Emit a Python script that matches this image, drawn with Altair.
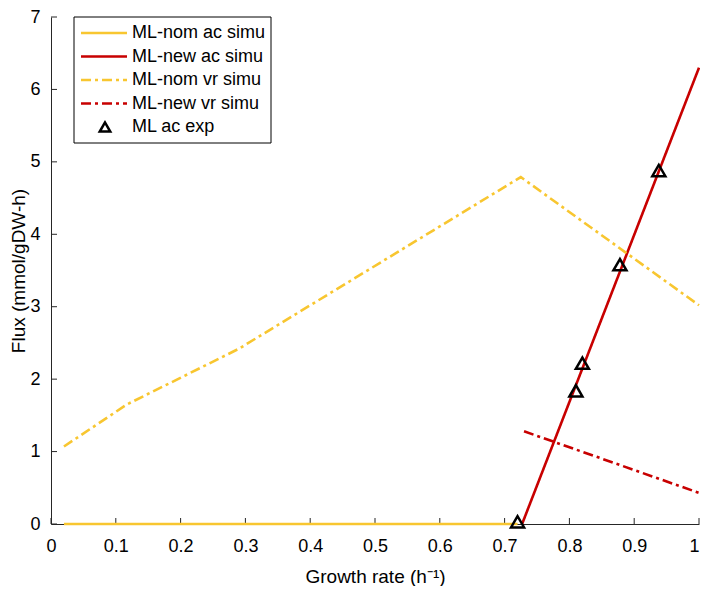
import altair as alt
import pandas as pd

series_names = ["ML-nom ac simu", "ML-new ac simu", "ML-nom vr simu", "ML-new vr simu", "ML ac exp"]

nom_ac_x = [0.02, 0.72]
nom_ac_y = [0.0, 0.0]
new_ac_x = [0.727, 1.0]
new_ac_y = [0.0, 6.3]
nom_vr_x = [0.02, 0.117, 0.29, 0.725, 1.0]
nom_vr_y = [1.07, 1.65, 2.42, 4.79, 3.02]
new_vr_x = [0.73, 1.0]
new_vr_y = [1.28, 0.43]
exp_x = [0.72, 0.81, 0.82, 0.878, 0.938]
exp_y = [0.03, 1.84, 2.22, 3.58, 4.88]

x_ticks = [0, 0.1, 0.2, 0.3, 0.4, 0.5, 0.6, 0.7, 0.8, 0.9, 1]
y_ticks = [0, 1, 2, 3, 4, 5, 6, 7]

YELLOW = "#F8C630"
RED = "#C80000"
colors = [YELLOW, RED, YELLOW, RED, "black"]
DASHDOT = [10, 4, 3, 4]
dashes = [[1, 0], [1, 0], DASHDOT, DASHDOT, [1, 0]]

W, H = 648, 507
PAD = {"left": 43, "top": 9, "right": 1, "bottom": 62}
FONT = "Liberation Sans"
AXIS_COLOR = "#262626"

rows = []
for name, xs, ys in [
    (series_names[0], nom_ac_x, nom_ac_y),
    (series_names[1], new_ac_x, new_ac_y),
    (series_names[2], nom_vr_x, nom_vr_y),
    (series_names[3], new_vr_x, new_vr_y),
]:
    for i, (a, b) in enumerate(zip(xs, ys)):
        rows.append({"series": name, "x": a, "y": b, "o": i})
lines_df = pd.DataFrame(rows)
exp_df = pd.DataFrame({"series": series_names[4], "x": exp_x, "y": exp_y})
xt_df = pd.DataFrame({"x": x_ticks})
yt_df = pd.DataFrame({"y": y_ticks})
one = pd.DataFrame({"a": [0]})

xscale = alt.Scale(domain=[0, 1], nice=False, zero=False)
yscale = alt.Scale(domain=[0, 7], nice=False)
xaxis = alt.Axis(
    values=x_ticks, format="~g", ticks=False, grid=False, labelPadding=13,
    titlePadding=12, labelFlush=False, labelOverlap=False,
    labelAlign={"condition": {"test": "datum.value >= 1", "value": "right"}, "value": "center"},
)
yaxis = alt.Axis(values=y_ticks, format="~g", ticks=False, grid=False, labelPadding=11,
                 titlePadding=1, labelOverlap=False)
XT = "Growth rate (h⁻¹)"
YT = "Flux (mmol/gDW-h)"

color = alt.Color("series:N", scale=alt.Scale(domain=series_names, range=colors), legend=None)
dash = alt.StrokeDash("series:N", scale=alt.Scale(domain=series_names, range=dashes), legend=None)

# inward ticks (MATLAB style)
xtick_layer = alt.Chart(xt_df).mark_rule(color=AXIS_COLOR, strokeWidth=1).encode(
    x=alt.X("x:Q", scale=xscale, axis=xaxis, title=XT),
    y=alt.value(H), y2=alt.value(H - 6),
)
ytick_layer = alt.Chart(yt_df).mark_rule(color=AXIS_COLOR, strokeWidth=1).encode(
    y=alt.Y("y:Q", scale=yscale, axis=yaxis, title=YT),
    x=alt.value(0), x2=alt.value(6),
)

lines = alt.Chart(lines_df).mark_line(strokeWidth=2.6).encode(
    x=alt.X("x:Q", scale=xscale, axis=xaxis, title=XT),
    y=alt.Y("y:Q", scale=yscale, axis=yaxis, title=YT),
    color=color,
    strokeDash=dash,
    order="o:Q",
)

points = alt.Chart(exp_df).mark_point(
    shape="triangle-up", filled=False, strokeWidth=2.5, opacity=1, size=170, color="black"
).encode(
    x=alt.X("x:Q", scale=xscale, axis=xaxis, title=XT),
    y=alt.Y("y:Q", scale=yscale, axis=yaxis, title=YT),
)

# legend (drawn inside the plot, top-left)
LX0, LX1, LY0, LY1 = 23, 220, 0, 126
ROW0, ROWDY = 16, 23.5
legend_layers = [
    alt.Chart(one).mark_rect(fill="white", stroke="black", strokeWidth=1).encode(
        x=alt.value(LX0), x2=alt.value(LX1), y=alt.value(LY0), y2=alt.value(LY1)
    )
]
for i, name in enumerate(series_names):
    yy = ROW0 + ROWDY * i
    if i < 4:
        legend_layers.append(
            alt.Chart(one).mark_rule(color=colors[i], strokeDash=dashes[i], strokeWidth=2.6).encode(
                x=alt.value(30), x2=alt.value(76), y=alt.value(yy)
            )
        )
    else:
        legend_layers.append(
            alt.Chart(one).mark_point(shape="triangle-up", filled=False, strokeWidth=2.5,
                                      opacity=1, size=110, color="black").encode(
                x=alt.value(54), y=alt.value(yy)
            )
        )
    legend_layers.append(
        alt.Chart(one).mark_text(align="left", baseline="middle", font=FONT, fontSize=18,
                                 color="black", text=name).encode(
            x=alt.value(81), y=alt.value(yy)
        )
    )

chart = alt.layer(xtick_layer, ytick_layer, lines, points, *legend_layers).properties(
    width=W, height=H, padding=PAD, autosize=alt.AutoSizeParams(type="none")
).configure_view(stroke=None).configure_axis(
    domainColor=AXIS_COLOR, domainWidth=1,
    labelFont=FONT, labelFontSize=18, labelColor="black",
    titleFont=FONT, titleFontSize=19, titleFontWeight="normal", titleColor="black",
)

chart.save("out.html", embed_options={"renderer": "svg", "actions": False})
